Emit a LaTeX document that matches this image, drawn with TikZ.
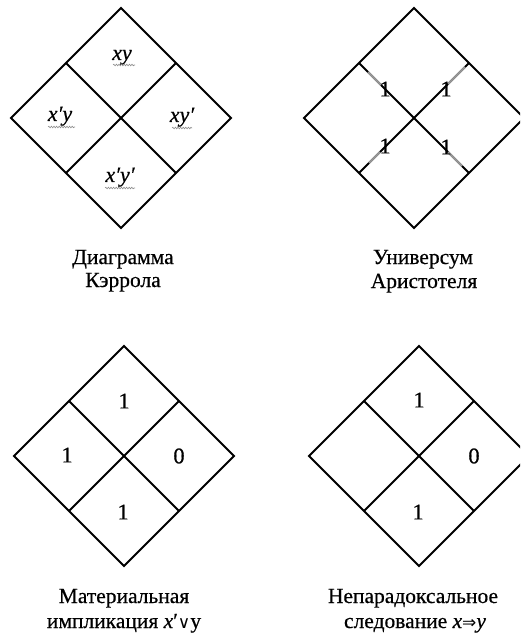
\documentclass[tikz,border=0pt]{standalone}
\usepackage{fontspec}
\setmainfont{Liberation Serif}[FakeBold=0.5]
\newfontfamily\symf{DejaVu Sans}
\usetikzlibrary{decorations.pathmorphing}
\begin{document}
\begin{tikzpicture}[x=1pt,y=-1pt,
  gridline/.style={line width=1.8pt,line join=miter,black},
  faint/.style={line width=1.8pt,black!40},
  lbl/.style={inner sep=0pt,font=\fontsize{22}{26}\selectfont\itshape,anchor=base},
  num/.style={inner sep=0pt,font=\fontsize{22.5}{26}\selectfont},
  captext/.style={inner sep=0pt,font=\fontsize{21.5}{26}\selectfont,anchor=base},
  squig/.style={decorate,decoration={snake,amplitude=0.8pt,segment length=2.6pt},black!45,line width=0.6pt},
  cellsquare/.pic={
    \draw[gridline] (0,-110) -- (110,0) -- (0,110) -- (-110,0) -- cycle;
    \draw[gridline] (-55,-55) -- (55,55);
    \draw[gridline] (55,-55) -- (-55,55);
  }]
\useasboundingbox (0,0) rectangle (520,636);
\clip (0,0) rectangle (520,636);
% diamonds
\pic at (121,118) {cellsquare};
\pic at (414,118) {cellsquare};
\pic at (124,456) {cellsquare};
\pic at (419,456) {cellsquare};
% faint parts of the Aristotle diagram
\draw[faint] (414-46,118-46) -- (414-33,118-33);
\draw[faint] (414+51,118-51) -- (414+34,118-34);
\draw[faint] (414-34,118+34) -- (414-45,118+45);
\draw[faint] (414+34,118+34) -- (414+48,118+48);
% Carroll labels
\node[lbl] (xy) at (122,60) {xy};
\node[lbl] (xpy) at (60,121) {x′y};
\node[lbl] (xyp) at (182,122) {xy′};
\node[lbl] (xpyp) at (120,182) {x′y′};
\draw[squig] (113,65) -- (135,65);
\draw[squig] (48,127) -- (75,127);
\draw[squig] (172,128) -- (192,128);
\draw[squig] (105,188) -- (135,188);
% Aristotle ones
\node[num] (a1) at (385,89) {1};
\node[num] (a2) at (446,89) {1};
\node[num] (a3) at (385,146) {1};
\node[num] (a4) at (446,147) {1};
% material implication
\node[num] (m1) at (124,401) {1};
\node[num] (m2) at (67,455) {1};
\node[num] (m3) at (179,456) {0};
\node[num] (m4) at (123,512) {1};
% non-paradoxical
\node[num] (n1) at (419,400) {1};
\node[num] (n2) at (474,456) {0};
\node[num] (n3) at (418,512) {1};
% captions
\node[captext] (c1a) at (123,264) {Диаграмма};
\node[captext] (c1b) at (123,287) {Кэррола};
\node[captext] (c2a) at (423,264) {Универсум};
\node[captext] (c2b) at (424,288) {Аристотеля};
\node[captext] (c3a) at (124,603) {Материальная};
\node[captext] (c3b) at (124,628) {импликация \textit{x}′{\symf\fontsize{17}{20}\selectfont ∨}y};
\node[captext] (c4a) at (413,603) {Непарадоксальное};
\node[captext] (c4b) at (415,628) {следование \textit{x}{\symf\fontsize{17}{20}\selectfont ⇒}\textit{y}};
\end{tikzpicture}
\end{document}
